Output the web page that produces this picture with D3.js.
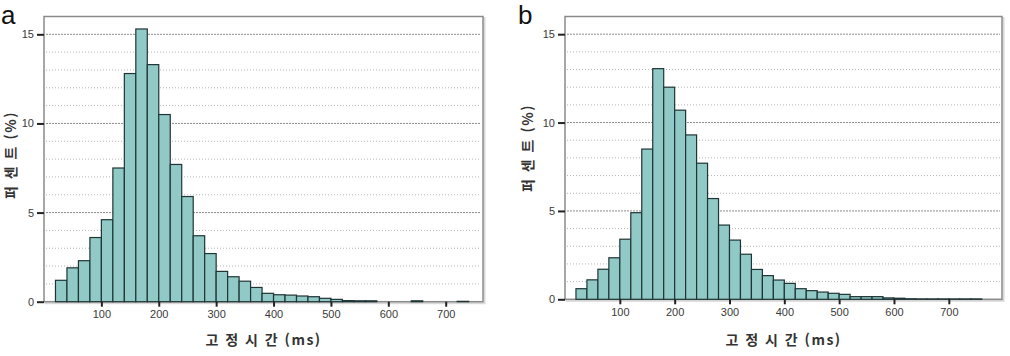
<!DOCTYPE html>
<html lang="ko">
<head>
    <meta charset="UTF-8">
    <title>고정 시간 히스토그램</title>
    <style>
        body,html{
            margin:0;
            padding:0;
            border:0;
            background:#fff;
        }
        .tick-label{
            font-family:"Liberation Sans Narrow","Liberation Sans",Arial,sans-serif;
            font-size:11px;
            fill:#3a3a3a;
        }
        .axis-title{
            font-family:"Noto Sans CJK KR",sans-serif;
            font-size:14px;
            font-weight:bold;
            fill:#333;
            letter-spacing:1.5px;
        }
        .panel-letter{
            font-family:"Liberation Sans",Arial,sans-serif;
            font-size:26px;
            fill:#111;
        }
    </style>
</head>
<body>
    <svg id="svg" width="1010" height="356"></svg>
    <script type="text/javascript" src="https://cdnjs.cloudflare.com/ajax/libs/d3/7.8.5/d3.min.js"></script>
    <script type="text/javascript">
        // bin start (ms), each bin is 20 ms wide
        var binStarts = [20, 40, 60, 80, 100, 120, 140, 160, 180, 200, 220, 240, 260, 280, 300,
                         320, 340, 360, 380, 400, 420, 440, 460, 480, 500, 520, 540, 560, 580, 600,
                         620, 640, 660, 680, 700, 720, 740];
        var binWidth = 20;

        // percent per bin, panel a
        var percentA = [1.2, 1.9, 2.3, 3.6, 4.6, 7.5, 12.8, 15.3, 13.3, 10.5, 7.7, 5.9, 3.7, 2.7, 1.7,
                        1.4, 1.15, 0.8, 0.47, 0.39, 0.37, 0.32, 0.28, 0.19, 0.13, 0.06, 0.05, 0.05, 0, 0,
                        0, 0.05, 0, 0, 0, 0.02, 0];
        // percent per bin, panel b
        var percentB = [0.6, 1.1, 1.7, 2.35, 3.4, 4.9, 8.5, 13.05, 12.0, 10.7, 9.3, 7.7, 5.7, 4.2, 3.35,
                        2.55, 1.69, 1.34, 1.09, 0.9, 0.6, 0.49, 0.41, 0.34, 0.28, 0.15, 0.15, 0.15, 0.08, 0.06,
                        0.03, 0.02, 0.02, 0.02, 0.02, 0.02, 0.02];

        var xTicks = [100, 200, 300, 400, 500, 600, 700];
        var yTicks = [0, 5, 10, 15];
        var gridValues = [1, 2, 3, 4, 5, 6, 7, 8, 9, 10, 11, 12, 13, 14, 15];

        var xTitle = "고 정 시 간 (ms)";
        var yTitle = "퍼 센 트 (%)";

        var svg = d3.select("#svg");

        function drawPanel(opt){
            var g = svg.append("g");
            var x = d3.scaleLinear().domain([0, opt.xMax]).range([opt.left, opt.right]);
            var y = d3.scaleLinear().domain([0, 16]).range([opt.bottom, opt.top]);

            //frame with a soft shadow
            g.append("rect")
                .attr("x", opt.left + 1.5).attr("y", opt.top + 1.5)
                .attr("width", opt.right - opt.left).attr("height", opt.bottom - opt.top)
                .attr("fill", "none").attr("stroke", "#d8d8d8").attr("stroke-width", 2);
            g.append("rect")
                .attr("x", opt.left).attr("y", opt.top)
                .attr("width", opt.right - opt.left).attr("height", opt.bottom - opt.top)
                .attr("fill", "#fff").attr("stroke", "#8a8a8a").attr("stroke-width", 1.5);

            //dotted grid
            g.selectAll("line.grid").data(gridValues).enter().append("line")
                .attr("class", "grid")
                .attr("x1", opt.left + 2).attr("x2", opt.right - 2)
                .attr("y1", function(d){return y(d);}).attr("y2", function(d){return y(d);})
                .attr("stroke", function(d){return d % 5 === 0 ? "#8c8c8c" : "#b4b4b4";})
                .attr("stroke-dasharray", function(d){return d % 5 === 0 ? "2,1" : "1,2";})
                .attr("stroke-width", 1);

            //bars
            var data = binStarts.map(function(s, i){return {start:s, v:opt.values[i]};})
                .filter(function(d){return d.v > 0;});
            g.selectAll("rect.bar").data(data).enter().append("rect")
                .attr("class", "bar")
                .attr("x", function(d){return x(d.start);})
                .attr("width", function(d){return x(d.start + binWidth) - x(d.start);})
                .attr("y", function(d){return y(d.v);})
                .attr("height", function(d){return y(0) - y(d.v);})
                .attr("fill", "#90c9c6")
                .attr("stroke", "#1f3535")
                .attr("stroke-width", 1.2);

            //y axis
            var yAxis = g.append("g")
                .attr("transform", "translate(" + opt.left + ",0)")
                .call(d3.axisLeft(y).tickValues(yTicks).tickSize(7).tickPadding(3));
            yAxis.select(".domain").remove();
            yAxis.selectAll(".tick line").attr("stroke", "#222").attr("stroke-width", 2);
            yAxis.selectAll(".tick text").attr("class", "tick-label").attr("font-family", null).attr("font-size", null).attr("fill", null);

            //x axis
            var xAxis = g.append("g")
                .attr("transform", "translate(0," + opt.bottom + ")")
                .call(d3.axisBottom(x).tickValues(xTicks).tickSize(5).tickPadding(4));
            xAxis.select(".domain").remove();
            xAxis.selectAll(".tick line").attr("stroke", "#222").attr("stroke-width", 2);
            xAxis.selectAll(".tick text").attr("class", "tick-label").attr("font-family", null).attr("font-size", null).attr("fill", null);

            //titles
            g.append("text").attr("class", "axis-title")
                .attr("x", (opt.left + opt.right) / 2).attr("y", 345)
                .attr("text-anchor", "middle")
                .text(xTitle);
            g.append("text").attr("class", "axis-title")
                .attr("transform", "translate(" + opt.yTitleX + "," + opt.yTitleY + ") rotate(-90)")
                .attr("text-anchor", "middle")
                .attr("dominant-baseline", "central")
                .text(yTitle);

            g.append("text").attr("class", "panel-letter")
                .attr("x", opt.letterX).attr("y", opt.letterY)
                .text(opt.letter);
        }

        drawPanel({values:percentA, xMax:765, left:44, right:483, top:16.5, bottom:301.7,
                   yTitleX:10, yTitleY:155, letter:"a", letterX:1, letterY:24});
        drawPanel({values:percentB, xMax:797, left:565, right:1002, top:16.5, bottom:299.3,
                   yTitleX:527, yTitleY:148, letter:"b", letterX:518, letterY:24});
    </script>
</body>
</html>
